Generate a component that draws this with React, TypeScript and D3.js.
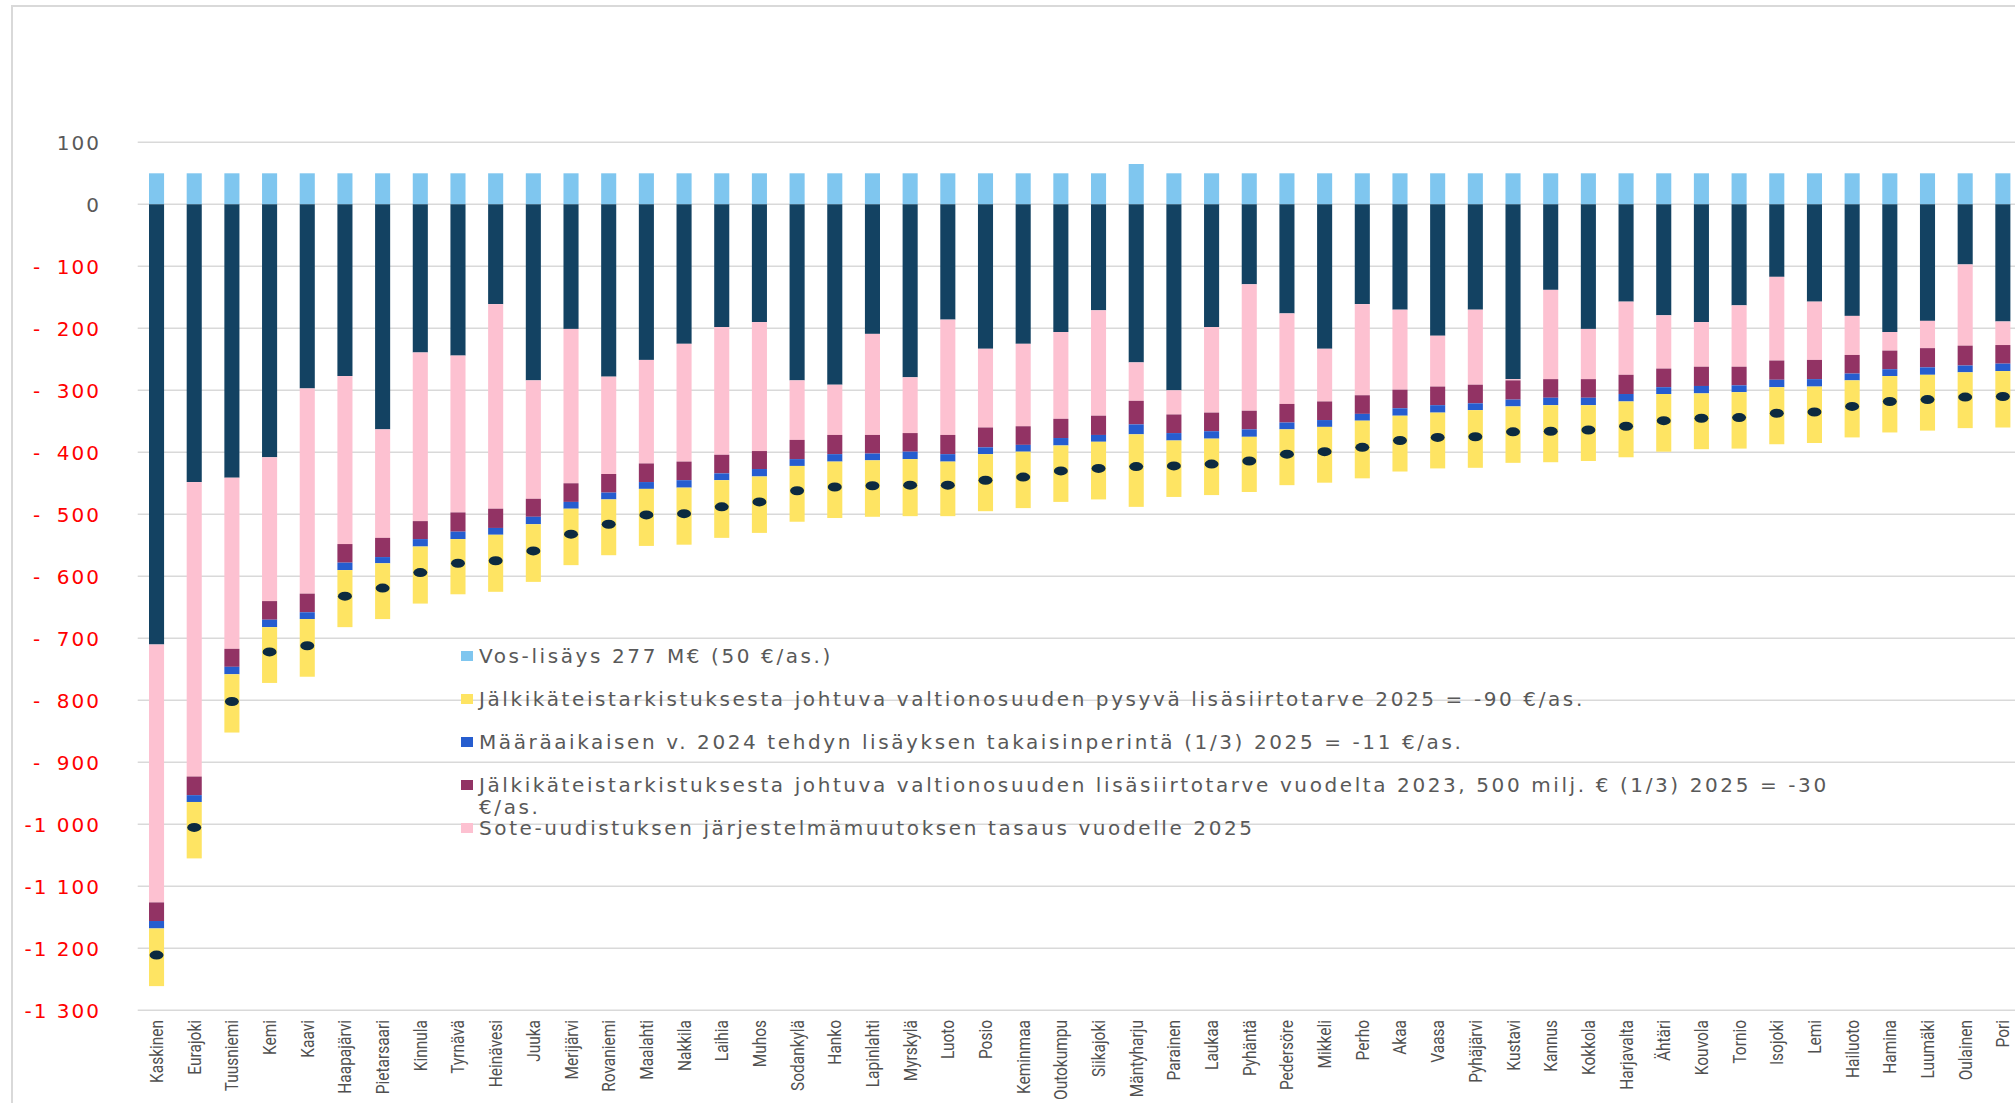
import * as d3 from "d3";
import React, { useEffect, useRef } from "react";

const municipalities = [
  "Kaskinen", "Eurajoki", "Tuusniemi", "Kemi", "Kaavi", "Haapajärvi", "Pietarsaari",
  "Kinnula", "Tyrnävä", "Heinävesi", "Juuka", "Merijärvi", "Rovaniemi", "Maalahti",
  "Nakkila", "Laihia", "Muhos", "Sodankylä", "Hanko", "Lapinlahti", "Myrskylä",
  "Luoto", "Posio", "Keminmaa", "Outokumpu", "Siikajoki", "Mäntyharju", "Parainen",
  "Laukaa", "Pyhäntä", "Pedersöre", "Mikkeli", "Perho", "Akaa", "Vaasa", "Pyhäjärvi",
  "Kustavi", "Kannus", "Kokkola", "Harjavalta", "Ähtäri", "Kouvola", "Tornio",
  "Isojoki", "Lemi", "Hailuoto", "Hamina", "Luumäki", "Oulainen", "Pori",
];

// Vos-lisäys 277 M€ (50 €/as.)
const vosLisays = [
  50, 50, 50, 50, 50, 50, 50, 50, 50, 50, 50, 50, 50, 50, 50, 50, 50, 50, 50, 50,
  50, 50, 50, 50, 50, 50, 65, 50, 50, 50, 50, 50, 50, 50, 50, 50, 50, 50, 50, 50,
  50, 50, 50, 50, 50, 50, 50, 50, 50, 50,
];
// dark series (no legend entry)
const muutMuutokset = [
  -710, -448, -441, -408, -297, -277, -363, -239, -244, -161, -284, -201, -278, -251,
  -225, -198, -190, -284, -291, -209, -279, -186, -233, -225, -206, -171, -255, -300,
  -198, -129, -176, -233, -161, -170, -212, -170, -282, -138, -201, -157, -179, -190,
  -163, -117, -157, -180, -206, -188, -97, -189,
];
// Sote-uudistuksen järjestelmämuutoksen tasaus vuodelle 2025
const soteTasaus = [
  -416, -475, -276, -232, -331, -271, -175, -272, -253, -330, -191, -249, -157, -167,
  -190, -206, -208, -96, -81, -163, -90, -186, -127, -133, -140, -170, -62, -39,
  -138, -204, -146, -85, -147, -129, -82, -121, -2, -144, -81, -118, -86, -72,
  -99, -135, -94, -63, -30, -44, -131, -38,
];
// Jälkikäteistarkistus, lisäsiirtotarve vuodelta 2023 (1/3)
const jalki2023 = [
  -30, -30, -29, -30, -30, -30, -31, -29, -31, -31, -29, -30, -30, -30, -30, -30, -29,
  -31, -31, -30, -30, -31, -32, -30, -31, -31, -38, -30, -30, -30, -30, -30, -30, -30,
  -30, -30, -31, -30, -30, -31, -30, -31, -30, -31, -31, -30, -30, -31, -32, -30,
];
// Määräaikaisen v. 2024 lisäyksen takaisinperintä (1/3)
const takaisinperinta = [
  -12, -11, -12, -12, -11, -12, -10, -12, -12, -11, -12, -11, -11, -11, -12, -11, -12,
  -11, -12, -11, -12, -12, -11, -11, -12, -11, -16, -12, -12, -12, -11, -11, -11, -12,
  -12, -11, -11, -12, -12, -12, -11, -12, -11, -12, -12, -11, -11, -12, -11, -12,
];
// Jälkikäteistarkistus, pysyvä lisäsiirtotarve 2025
const jalki2025 = [
  -93, -91, -94, -90, -93, -92, -90, -92, -89, -92, -93, -91, -90, -92, -92, -93, -91,
  -90, -91, -91, -92, -88, -92, -91, -91, -93, -117, -91, -91, -89, -90, -90, -93, -90,
  -90, -93, -91, -92, -90, -90, -93, -90, -91, -92, -91, -92, -91, -90, -90, -91,
];

const yTicks = [100, 0, -100, -200, -300, -400, -500, -600, -700, -800, -900, -1000, -1100, -1200, -1300];

const seriesKeys = ["vos", "muut", "sote", "j2023", "maara", "j2025"];
const seriesColors: Record<string, string> = {
  vos: "#7fc6ef",
  muut: "#134262",
  sote: "#fdc1d1",
  j2023: "#923364",
  maara: "#265dcf",
  j2025: "#fee463",
};

const legendItems = [
  { key: "vos", lines: ["Vos-lisäys 277 M€ (50 €/as.)"] },
  { key: "j2025", lines: ["Jälkikäteistarkistuksesta johtuva valtionosuuden pysyvä lisäsiirtotarve 2025 = -90 €/as."] },
  { key: "maara", lines: ["Määräaikaisen v. 2024 tehdyn lisäyksen takaisinperintä (1/3) 2025 = -11 €/as."] },
  {
    key: "j2023",
    lines: ["Jälkikäteistarkistuksesta johtuva valtionosuuden lisäsiirtotarve vuodelta 2023, 500 milj. € (1/3) 2025 = -30", "€/as."],
  },
  { key: "sote", lines: ["Sote-uudistuksen järjestelmämuutoksen tasaus vuodelle 2025"] },
];

const W = 2015;
const H = 1103;

const tickLabel = (v: number) => {
  if (v >= 0) return String(v);
  const a = Math.abs(v);
  if (a < 1000) return "-\u2007" + a;
  return "-" + Math.floor(a / 1000) + " " + String(a % 1000).padStart(3, "0");
};

const App: React.FC = () => {
  const svgRef = useRef<SVGSVGElement>(null);

  useEffect(() => {
    const svg = d3.select(svgRef.current);
    svg.selectAll("*").remove();

    const rows = municipalities.map((name, i) => ({
      name,
      vos: vosLisays[i],
      muut: muutMuutokset[i],
      sote: soteTasaus[i],
      j2023: jalki2023[i],
      maara: takaisinperinta[i],
      j2025: jalki2025[i],
    }));

    const x = d3
      .scaleBand<string>()
      .domain(municipalities)
      .range([137.7, 137.7 + 50 * 37.68])
      .paddingInner(0.6)
      .paddingOuter(0.3);

    const y = d3.scaleLinear().domain([-1300, 100]).range([1010.3, 142.3]);

    // frame
    svg
      .append("rect")
      .attr("x", 12)
      .attr("y", 6)
      .attr("width", W + 100)
      .attr("height", H + 100)
      .attr("fill", "none")
      .attr("stroke", "#d9d9d9")
      .attr("stroke-width", 2);

    // grid
    svg
      .append("g")
      .selectAll("line")
      .data(yTicks)
      .join("line")
      .attr("x1", 137.7)
      .attr("x2", W + 10)
      .attr("y1", (d) => y(d))
      .attr("y2", (d) => y(d))
      .attr("stroke", "#d9d9d9")
      .attr("stroke-width", 1.5);

    // y labels
    svg
      .append("g")
      .selectAll("text")
      .data(yTicks)
      .join("text")
      .attr("x", 101)
      .attr("y", (d) => y(d))
      .attr("dy", "0.36em")
      .attr("text-anchor", "end")
      .style("font-family", "'DejaVu Sans', sans-serif")
      .style("font-size", "20px")
      .style("letter-spacing", "2px")
      .attr("fill", (d) => (d < 0 ? "#ff0000" : "#595959"))
      .text((d) => tickLabel(d));

    const stack = d3
      .stack<any>()
      .keys(seriesKeys)
      .offset(d3.stackOffsetDiverging);
    const stacked = stack(rows);

    svg
      .append("g")
      .selectAll("g")
      .data(stacked)
      .join("g")
      .attr("fill", (d) => seriesColors[d.key])
      .selectAll("rect")
      .data((d) => d)
      .join("rect")
      .attr("x", (d) => x(d.data.name) as number)
      .attr("width", x.bandwidth())
      .attr("y", (d) => y(Math.max(d[0], d[1])))
      .attr("height", (d) => Math.abs(y(d[0]) - y(d[1])));

    // net total markers
    svg
      .append("g")
      .selectAll("ellipse")
      .data(rows)
      .join("ellipse")
      .attr("cx", (d) => (x(d.name) as number) + x.bandwidth() / 2)
      .attr("cy", (d) => y(d.vos + d.muut + d.sote + d.j2023 + d.maara + d.j2025))
      .attr("rx", 7)
      .attr("ry", 4.5)
      .attr("fill", "#0c2a40");

    // x labels
    svg
      .append("g")
      .selectAll("text")
      .data(municipalities)
      .join("text")
      .attr(
        "transform",
        (d) => `translate(${(x(d) as number) + x.bandwidth() / 2},1020) rotate(-90) scale(0.86,1)`
      )
      .attr("dy", "0.36em")
      .attr("text-anchor", "end")
      .style("font-family", "Roboto, sans-serif")
      .style("font-size", "18px")
      .attr("fill", "#505050")
      .text((d) => d);

    // legend
    const legend = svg.append("g");
    const rowY = (i: number) => 656 + i * 43;
    legendItems.forEach((item, i) => {
      legend
        .append("rect")
        .attr("x", 461)
        .attr("y", rowY(i) - 5)
        .attr("width", 12)
        .attr("height", 10)
        .attr("fill", seriesColors[item.key]);
      item.lines.forEach((line, j) => {
        legend
          .append("text")
          .attr("x", 479)
          .attr("y", rowY(i) + j * 22)
          .attr("dy", "0.36em")
          .style("font-family", "'DejaVu Sans', sans-serif")
          .style("font-size", "20px")
          .style("letter-spacing", "2.6px")
          .attr("fill", "#595959")
          .text(line);
      });
    });
  }, []);

  return (
    <svg
      ref={svgRef}
      width={W}
      height={H}
      style={{ position: "absolute", left: 0, top: 0, background: "#fff" }}
    />
  );
};

export default App;
